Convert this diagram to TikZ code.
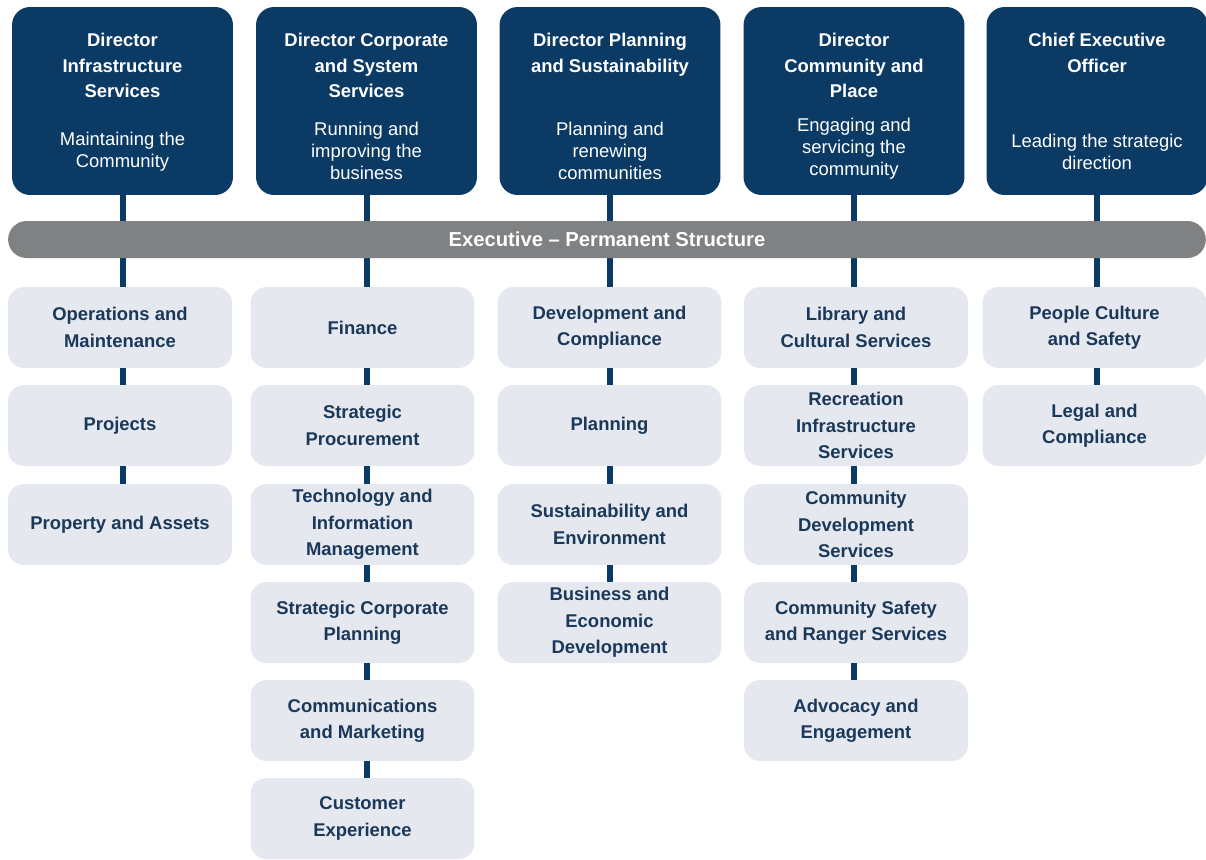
\documentclass[tikz,border=0pt]{standalone}
\usepackage{fontspec}
\setmainfont{Liberation Sans}
\definecolor{navy}{RGB}{11,58,101}
\definecolor{bargrey}{RGB}{128,129,131}
\definecolor{unitfill}{RGB}{230,232,239}
\definecolor{unittext}{RGB}{25,56,90}

\begin{document}
\begin{tikzpicture}[x=0.02cm, y=-0.02cm,
    dirbox/.style={fill=navy, rounded corners=0.36cm, minimum width=4.42cm, minimum height=3.76cm, inner sep=0pt},
    dirtitle/.style={text=white, font=\fontsize{10.5}{14.5}\selectfont\bfseries, align=center, inner sep=0pt, anchor=north},
    dirsub/.style={text=white, font=\fontsize{10.5}{12.5}\selectfont, align=center, inner sep=0pt},
    unitbox/.style={fill=unitfill, rounded corners=0.32cm, minimum width=4.48cm, minimum height=1.62cm, inner sep=0pt,
                    text=unittext, font=\fontsize{10.5}{15}\selectfont\bfseries, align=center},
    execbar/.style={fill=bargrey, rounded corners=0.37cm, minimum width=23.96cm, minimum height=0.74cm,
                    text=white, font=\fontsize{11.5}{13}\selectfont\bfseries},
    link/.style={draw=navy, line width=0.12cm}]
    \useasboundingbox (0,0) rectangle (1206,859);

    % directors
    \node[dirbox] (dinf) at (122.5,101) {};
    \node[dirtitle] (dinf-t) at (122.5,33) {Director\\Infrastructure\\Services};
    \node[dirsub] (dinf-s) at (122.5,152) {Maintaining the\\Community};

    \node[dirbox] (dcorp) at (366.5,101) {};
    \node[dirtitle] (dcorp-t) at (366.5,33) {Director Corporate\\and System\\Services};
    \node[dirsub] (dcorp-s) at (366.5,151) {Running and\\improving the\\business};

    \node[dirbox] (dplan) at (610,101) {};
    \node[dirtitle] (dplan-t) at (610,33) {Director Planning\\and Sustainability};
    \node[dirsub] (dplan-s) at (610,151) {Planning and\\renewing\\communities};

    \node[dirbox] (dcomm) at (854,101) {};
    \node[dirtitle] (dcomm-t) at (854,33) {Director\\Community and\\Place};
    \node[dirsub] (dcomm-s) at (854,149) {Engaging and\\servicing the\\community};

    \node[dirbox] (dceo) at (1097,101) {};
    \node[dirtitle] (dceo-t) at (1097,33) {Chief Executive\\Officer};
    \node[dirsub] (dceo-s) at (1097,152) {Leading the strategic\\direction};

    % infrastructure services
    \node[unitbox] (ops) at (120,327.5) {Operations and\\Maintenance};
    \node[unitbox] (proj) at (120,425.5) {Projects};
    \node[unitbox] (prop) at (120,524.5) {Property and Assets};

    % corporate and system services
    \node[unitbox] (fin) at (362.5,327.5) {Finance};
    \node[unitbox] (proc) at (362.5,425.5) {Strategic\\Procurement};
    \node[unitbox] (tech) at (362.5,524.5) {Technology and\\Information\\Management};
    \node[unitbox] (corp) at (362.5,622.5) {Strategic Corporate\\Planning};
    \node[unitbox] (mark) at (362.5,720.5) {Communications\\and Marketing};
    \node[unitbox] (cust) at (362.5,818.5) {Customer\\Experience};

    % planning and sustainability
    \node[unitbox] (dev) at (609.5,327.5) {Development and\\Compliance};
    \node[unitbox] (plan) at (609.5,425.5) {Planning};
    \node[unitbox] (env) at (609.5,524.5) {Sustainability and\\Environment};
    \node[unitbox] (econ) at (609.5,622.5) {Business and\\Economic\\Development};

    % community and place
    \node[unitbox] (lib) at (856,327.5) {Library and\\Cultural Services};
    \node[unitbox] (rec) at (856,425.5) {Recreation\\Infrastructure\\Services};
    \node[unitbox] (cdev) at (856,524.5) {Community\\Development\\Services};
    \node[unitbox] (safe) at (856,622.5) {Community Safety\\and Ranger Services};
    \node[unitbox] (adv) at (856,720.5) {Advocacy and\\Engagement};

    % chief executive
    \node[unitbox] (ppl) at (1094.5,327.5) {People Culture\\and Safety};
    \node[unitbox] (legal) at (1094.5,425.5) {Legal and\\Compliance};

    % connectors
    \draw[link] (dinf.south) -- (dinf.south |- ops.north);
    \draw[link] (dcorp.south) -- (dcorp.south |- fin.north);
    \draw[link] (dplan.south) -- (dplan.south |- dev.north);
    \draw[link] (dcomm.south) -- (dcomm.south |- lib.north);
    \draw[link] (dceo.south) -- (dceo.south |- ppl.north);
    \foreach \a/\b in {ops/proj, proj/prop}
        \draw[link] (\a.south -| dinf.south) -- (\b.north -| dinf.south);
    \foreach \a/\b in {fin/proc, proc/tech, tech/corp, corp/mark, mark/cust}
        \draw[link] (\a.south -| dcorp.south) -- (\b.north -| dcorp.south);
    \foreach \a/\b in {dev/plan, plan/env, env/econ}
        \draw[link] (\a.south -| dplan.south) -- (\b.north -| dplan.south);
    \foreach \a/\b in {lib/rec, rec/cdev, cdev/safe, safe/adv}
        \draw[link] (\a.south -| dcomm.south) -- (\b.north -| dcomm.south);
    \draw[link] (ppl.south -| dceo.south) -- (legal.north -| dceo.south);

    % bar over the connectors
    \node[execbar] (exec) at (607,239.5) {Executive – Permanent Structure};
\end{tikzpicture}
\end{document}
